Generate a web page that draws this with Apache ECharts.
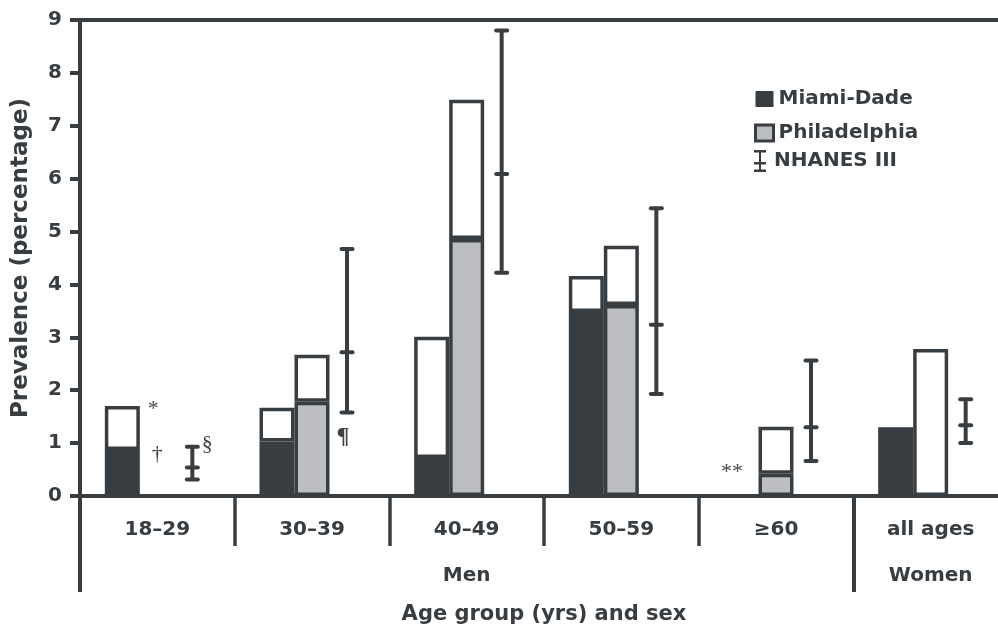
<!DOCTYPE html>
<html>
<head>
<meta charset="utf-8">
<script src="https://cdn.jsdelivr.net/npm/echarts@6/dist/echarts.min.js"></script>
<style>
html,body{margin:0;padding:0;background:#fff;overflow:hidden;width:998px;height:630px;}
#chart{width:1010px;height:630px;}
</style>
</head>
<body>
<div id="chart"></div>
<script>
// ---- data ----
const categories = ['18–29', '30–39', '40–49', '50–59', '≥60', 'all ages'];
const sexLabels = ['', '', 'Men', '', '', 'Women'];
const miamiLower = [0.87, 1.03, 0.72, 3.48, null, 1.30];
const miamiTotal = [1.70, 1.67, 3.01, 4.16, null, 1.30];
const phillyLower = [null, 1.78, 4.86, 3.61, 0.42, null];
const phillyTotal = [null, 2.67, 7.49, 4.73, 1.31, 2.78];
const nhanesLow = [0.31, 1.58, 4.22, 1.93, 0.66, 1.00];
const nhanesMid = [0.54, 2.72, 6.09, 3.24, 1.30, 1.34];
const nhanesHigh = [0.93, 4.67, 8.80, 5.44, 2.56, 1.83];
const noteTexts = ['*', '†', '§', '¶', '**'];
const noteCategory = [0, 0, 0, 1, 4];
const noteValue = [1.64, 0.79, 0.98, 1.12, 0.45];

// ---- styles ----
const DARK = '#383d41';
const GRAY = '#bcbdc0';
const FONT = 'DejaVu Sans';
const noteOffsets = [-4, 0, 50, 31, -44];

function upper(lower, total) {
  return total.map((t, i) => {
    if (t == null) return null;
    const l = lower[i] == null ? 0 : lower[i];
    const d = +(t - l).toFixed(2);
    return d > 0 ? d : null;
  });
}

const chart = echarts.init(document.getElementById('chart'), null, {renderer: 'canvas'});
const barBase = {type: 'bar', barWidth: 35, barGap: '0%', barCategoryGap: '0%', animation: false};
const legendText = {fontFamily: FONT, fontWeight: 'bold', fontSize: 20, color: DARK};

const option = {
  animation: false,
  backgroundColor: '#fff',
  grid: {left: 80, right: 2, top: 20, bottom: 134},
  legend: [
    {
      orient: 'vertical', left: 749, top: 84, itemWidth: 18, itemHeight: 16, itemGap: 14,
      selectedMode: false, textStyle: legendText,
      data: [
        {name: 'Miami-Dade', icon: 'rect', itemStyle: {color: DARK, borderWidth: 0}},
        {name: 'Philadelphia', icon: 'rect', itemStyle: {color: GRAY, borderColor: DARK, borderWidth: 3}}
      ]
    },
    {
      orient: 'vertical', left: 749, top: 145, itemWidth: 18, itemHeight: 22,
      selectedMode: false, textStyle: legendText,
      data: [
        {name: 'NHANES III', icon: 'path://M0,0h12v2.5h-12z M5,0h2v22h-2z M0,12h12v2.5h-12z M0,19.5h12v2.5h-12z', itemStyle: {color: DARK, borderWidth: 0}}
      ]
    }
  ],
  xAxis: [
    {
      type: 'category', data: categories, position: 'bottom',
      name: 'Age group (yrs) and sex', nameLocation: 'middle', nameGap: 108,
      nameTextStyle: {fontFamily: FONT, fontWeight: 'bold', fontSize: 21, color: DARK},
      axisLine: {show: true, lineStyle: {color: DARK, width: 4}},
      axisTick: {show: true, length: 50, lineStyle: {color: DARK, width: 3.5}},
      axisLabel: {interval: 0, margin: 24, fontFamily: FONT, fontWeight: 'bold', fontSize: 20, color: DARK},
      splitLine: {show: false}
    },
    {
      type: 'category', data: sexLabels, position: 'bottom',
      axisLine: {show: false},
      axisTick: {show: true, length: 96, interval: function (idx) { return idx === 0 || idx === 5; }, lineStyle: {color: DARK, width: 4}},
      axisLabel: {interval: 0, margin: 70, fontFamily: FONT, fontWeight: 'bold', fontSize: 20, color: DARK},
      splitLine: {show: false}
    },
    {
      type: 'category', data: categories, position: 'top',
      axisLine: {show: true, lineStyle: {color: DARK, width: 4}},
      axisTick: {show: false}, axisLabel: {show: false}, splitLine: {show: false}
    }
  ],
  yAxis: {
    type: 'value', min: 0, max: 9, interval: 1,
    name: 'Prevalence (percentage)', nameLocation: 'middle', nameGap: 47,
    nameTextStyle: {fontFamily: FONT, fontWeight: 'bold', fontSize: 23, color: DARK},
    axisLine: {show: true, lineStyle: {color: DARK, width: 4}},
    axisTick: {show: true, length: 10, lineStyle: {color: DARK, width: 4}},
    axisLabel: {margin: 18, fontFamily: FONT, fontWeight: 'bold', fontSize: 20, color: DARK},
    splitLine: {show: false}
  },
  series: [
    Object.assign({}, barBase, {name: 'Miami-Dade', stack: 'm', data: miamiLower,
      itemStyle: {color: DARK, borderColor: DARK, borderWidth: 3.5}}),
    Object.assign({}, barBase, {name: 'Miami-Dade upper', stack: 'm', data: upper(miamiLower, miamiTotal),
      itemStyle: {color: '#fff', borderColor: DARK, borderWidth: 3.5}}),
    Object.assign({}, barBase, {name: 'Philadelphia', stack: 'p', data: phillyLower,
      itemStyle: {color: GRAY, borderColor: DARK, borderWidth: 3.5}}),
    Object.assign({}, barBase, {name: 'Philadelphia upper', stack: 'p', data: upper(phillyLower, phillyTotal),
      itemStyle: {color: '#fff', borderColor: DARK, borderWidth: 3.5}}),
    Object.assign({}, barBase, {name: 'slot', stack: 'n', data: categories.map(() => 0), silent: true,
      itemStyle: {color: 'rgba(0,0,0,0)', borderWidth: 0}}),
    {
      type: 'custom', name: 'NHANES III', animation: false, clip: false,
      data: nhanesLow.map((l, i) => [i, l, nhanesMid[i], nhanesHigh[i]]),
      encode: {x: 0, y: [1, 2, 3]},
      renderItem: function (params, api) {
        const idx = api.value(0);
        const x = api.coord([idx, 0])[0] + 35;
        const yl = api.coord([idx, api.value(1)])[1];
        const ym = api.coord([idx, api.value(2)])[1];
        const yh = api.coord([idx, api.value(3)])[1];
        const st = {stroke: DARK, lineWidth: 4, lineCap: 'round'};
        const hw = 5.5;
        return {type: 'group', children: [
          {type: 'line', shape: {x1: x, y1: yl, x2: x, y2: yh}, style: {stroke: DARK, lineWidth: 4}},
          {type: 'line', shape: {x1: x - hw, y1: yl, x2: x + hw, y2: yl}, style: st},
          {type: 'line', shape: {x1: x - hw, y1: ym, x2: x + hw, y2: ym}, style: st},
          {type: 'line', shape: {x1: x - hw, y1: yh, x2: x + hw, y2: yh}, style: st}
        ]};
      },
      itemStyle: {color: DARK}
    },
    {
      type: 'scatter', name: 'notes', symbolSize: 0, silent: true, animation: false,
      data: noteTexts.map((t, i) => ({
        value: [noteCategory[i], noteValue[i]],
        label: {show: true, position: 'inside', formatter: t, offset: [noteOffsets[i], 0],
          fontFamily: 'Liberation Serif', fontWeight: t === '¶' ? 'bold' : 'normal',
          fontSize: t === '¶' ? 24 : 22, color: '#111'}
      }))
    }
  ]
};
chart.setOption(option);
</script>
</body>
</html>
